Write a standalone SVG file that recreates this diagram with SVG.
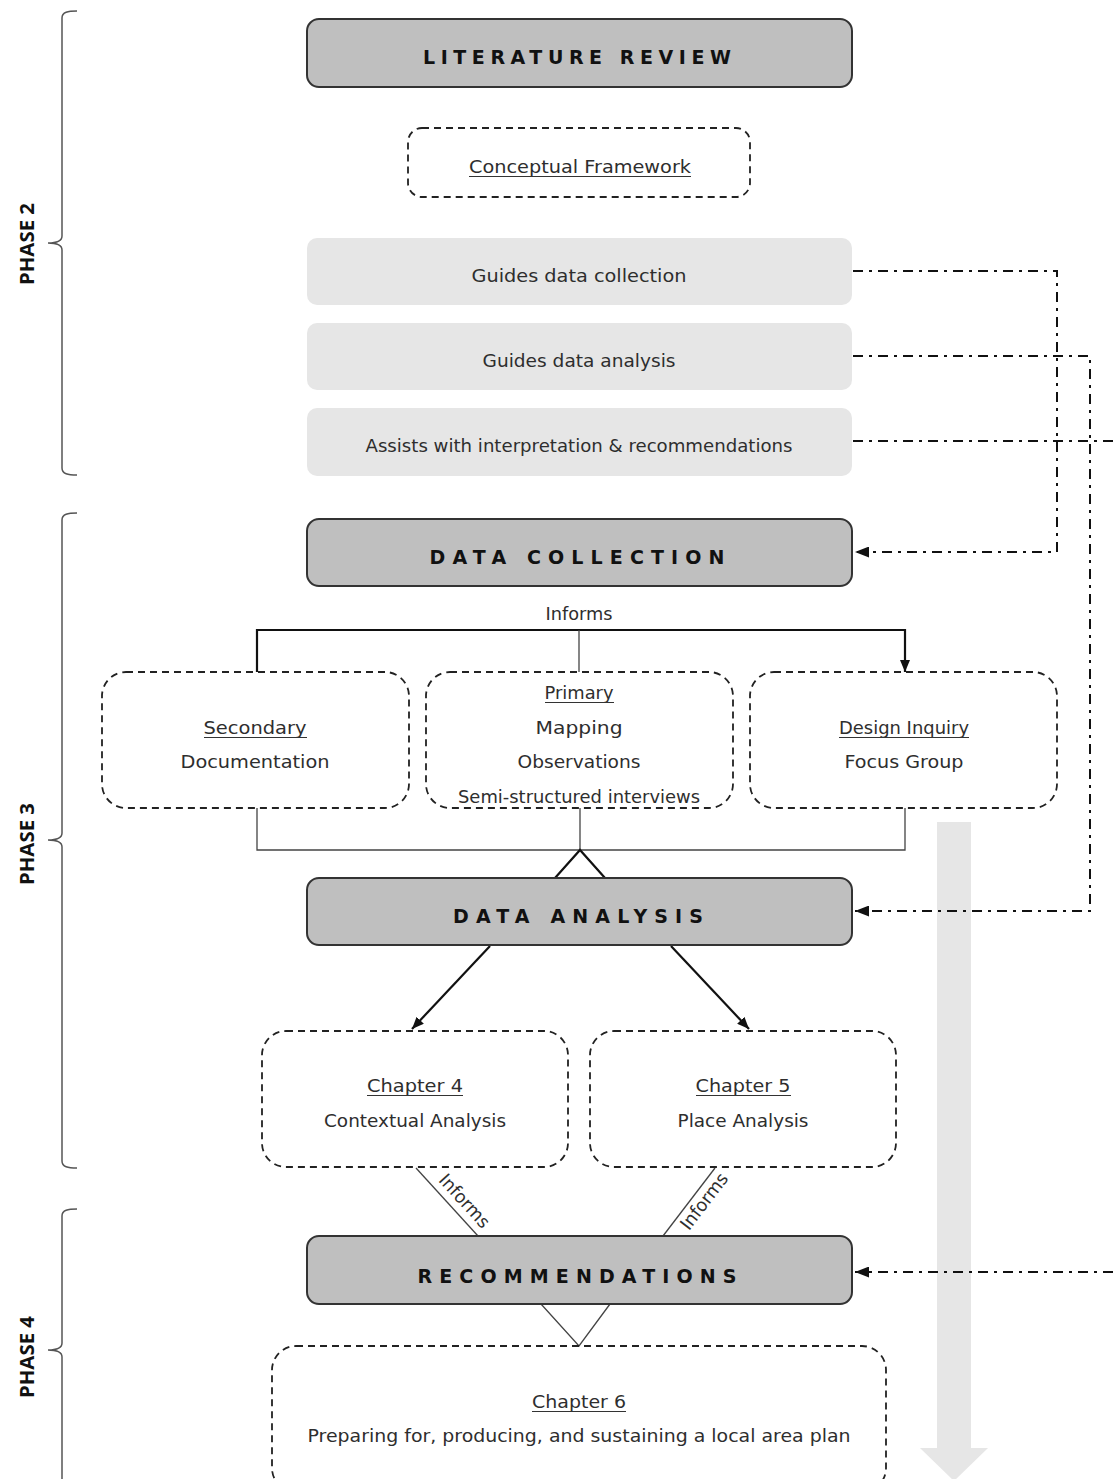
<svg xmlns="http://www.w3.org/2000/svg" width="1118" height="1479" viewBox="0 0 1118 1479">
<style>
.bg{fill:#ffffff}
.head rect{fill:#bfbfbf;stroke:#333333;stroke-width:2}
.head text{font-family:"DejaVu Sans","Liberation Sans",sans-serif;font-weight:bold;font-size:19px;fill:#111111;text-anchor:middle}
.light rect{fill:#e6e6e6;stroke:none}
.dash rect{fill:none;stroke:#222222;stroke-width:1.8;stroke-dasharray:7 5}
.t{font-family:"DejaVu Sans","Liberation Sans",sans-serif;font-size:18px;fill:#2e2e2e;text-anchor:middle}
.ul{stroke:#333333;stroke-width:1.1}
.brace{fill:none;stroke:#555555;stroke-width:1.5}
.phase{font-family:"Open Sans","DejaVu Sans",sans-serif;font-weight:bold;font-size:20px;fill:#111111;text-anchor:middle}
.thick{fill:none;stroke:#111111;stroke-width:2.2}
.thin{fill:none;stroke:#444444;stroke-width:1.3}
.dd{fill:none;stroke:#111111;stroke-width:2;stroke-dasharray:10 6 3 6}
.garrow{fill:#e6e6e6;stroke:none}
</style>
<defs>
<marker id="ah" viewBox="0 0 12 10" refX="12" refY="5" markerWidth="12" markerHeight="10" markerUnits="userSpaceOnUse" orient="auto"><path d="M0,0 L12,5 L0,10 Z" fill="#111111"/></marker>
<marker id="ah2" viewBox="0 0 14 11" refX="14" refY="5.5" markerWidth="14" markerHeight="11" markerUnits="userSpaceOnUse" orient="auto"><path d="M0,0 L14,5.5 L0,11 Z" fill="#111111"/></marker>
</defs>
<rect class="bg" x="0" y="0" width="1118" height="1479"/>

<g id="flow-arrow">
<path class="garrow" d="M937,822 H971 V1448 H988 L954,1481 L920,1448 H937 Z"/>
</g>

<g id="braces">
<path class="brace" d="M77,11 C68,11 62,12 62,18 L62,236 C62,241 58,243 48,243 C58,243 62,245 62,250 L62,468 C62,474 68,475 77,475"/>
<path class="brace" d="M77,513 C68,513 62,514 62,520 L62,833 C62,838 58,840 48,840 C58,840 62,842 62,847 L62,1161 C62,1167 68,1168 77,1168"/>
<path class="brace" d="M77,1209 C68,1209 62,1210 62,1216 L62,1343 C62,1348 58,1350 48,1350 C58,1350 62,1352 62,1357 L62,1484 C62,1490 68,1491 77,1491"/>
<text class="phase" transform="translate(34,244) rotate(-90)" textLength="82" lengthAdjust="spacingAndGlyphs">PHASE 2</text>
<text class="phase" transform="translate(34,844) rotate(-90)" textLength="82" lengthAdjust="spacingAndGlyphs">PHASE 3</text>
<text class="phase" transform="translate(34,1357) rotate(-90)" textLength="82" lengthAdjust="spacingAndGlyphs">PHASE 4</text>
</g>

<g id="connectors">
<path class="dd" d="M853,271 H1057 V552 H855" marker-end="url(#ah2)"/>
<path class="dd" d="M853,356 H1090 V911 H855" marker-end="url(#ah2)"/>
<path class="dd" d="M853,441 H1130 V1272 H855" marker-end="url(#ah2)"/>
<path class="thick" d="M257,672 V630 H905 V672" marker-end="url(#ah)"/>
<path class="thin" d="M579,630 V672"/>
<path class="thin" d="M257,808 V850 H905 V808"/>
<path class="thin" d="M580,808 V850"/>
<path class="thick" d="M555,878 L580,850 L605,878"/>
<path class="thick" d="M490,946 L412,1029" marker-end="url(#ah)"/>
<path class="thick" d="M671,946 L749,1029" marker-end="url(#ah)"/>
<path class="thin" d="M416,1168 L478,1236"/>
<path class="thin" d="M715,1168 L663,1236"/>
<text class="t" transform="translate(460,1205) rotate(47.6)" textLength="66" lengthAdjust="spacingAndGlyphs">Informs</text>
<text class="t" transform="translate(709,1205) rotate(-52.6)" textLength="66" lengthAdjust="spacingAndGlyphs">Informs</text>
<path class="thin" d="M541,1304 L579,1346 L610,1304"/>
<text class="t" x="579" y="620" textLength="67" lengthAdjust="spacingAndGlyphs">Informs</text>
</g>

<g id="literature-review" class="head">
<rect x="307" y="19" width="545" height="68" rx="12"/>
<text x="577" y="64" textLength="308" lengthAdjust="spacing">LITERATURE REVIEW</text>
</g>

<g id="conceptual-framework" class="dash">
<rect x="408" y="128" width="342" height="69" rx="14"/>
<text class="t" x="580" y="173" textLength="222" lengthAdjust="spacingAndGlyphs">Conceptual Framework</text>
<line class="ul" x1="469" y1="176.5" x2="691" y2="176.5"/>
</g>

<g id="guides-collection" class="light">
<rect x="307" y="238" width="545" height="67" rx="10"/>
<text class="t" x="579" y="282" textLength="215" lengthAdjust="spacingAndGlyphs">Guides data collection</text>
</g>

<g id="guides-analysis" class="light">
<rect x="307" y="323" width="545" height="67" rx="10"/>
<text class="t" x="579" y="367" textLength="193" lengthAdjust="spacingAndGlyphs">Guides data analysis</text>
</g>

<g id="assists" class="light">
<rect x="307" y="408" width="545" height="68" rx="10"/>
<text class="t" x="579" y="452" textLength="427" lengthAdjust="spacingAndGlyphs">Assists with interpretation &amp; recommendations</text>
</g>

<g id="data-collection" class="head">
<rect x="307" y="519" width="545" height="67" rx="12"/>
<text x="577" y="564" textLength="295" lengthAdjust="spacing">DATA COLLECTION</text>
</g>

<g id="secondary" class="dash">
<rect x="102" y="672" width="307" height="136" rx="24"/>
<text class="t" x="255" y="734" textLength="103" lengthAdjust="spacingAndGlyphs">Secondary</text>
<line class="ul" x1="204" y1="737.5" x2="307" y2="737.5"/>
<text class="t" x="255" y="768" textLength="149" lengthAdjust="spacingAndGlyphs">Documentation</text>
</g>

<g id="primary" class="dash">
<rect x="426" y="672" width="307" height="136" rx="24"/>
<text class="t" x="579" y="699" textLength="69" lengthAdjust="spacingAndGlyphs">Primary</text>
<line class="ul" x1="545" y1="702.5" x2="614" y2="702.5"/>
<text class="t" x="579" y="734" textLength="87" lengthAdjust="spacingAndGlyphs">Mapping</text>
<text class="t" x="579" y="768" textLength="123" lengthAdjust="spacingAndGlyphs">Observations</text>
<text class="t" x="579" y="803" textLength="242" lengthAdjust="spacingAndGlyphs">Semi-structured interviews</text>
</g>

<g id="design-inquiry" class="dash">
<rect x="750" y="672" width="307" height="136" rx="24"/>
<text class="t" x="904" y="734" textLength="130" lengthAdjust="spacingAndGlyphs">Design Inquiry</text>
<line class="ul" x1="839" y1="737.5" x2="969" y2="737.5"/>
<text class="t" x="904" y="768" textLength="119" lengthAdjust="spacingAndGlyphs">Focus Group</text>
</g>

<g id="data-analysis" class="head">
<rect x="307" y="878" width="545" height="67" rx="12"/>
<text x="578" y="923" textLength="250" lengthAdjust="spacing">DATA ANALYSIS</text>
</g>

<g id="chapter-4" class="dash">
<rect x="262" y="1031" width="306" height="136" rx="24"/>
<text class="t" x="415" y="1092" textLength="96" lengthAdjust="spacingAndGlyphs">Chapter 4</text>
<line class="ul" x1="367" y1="1095.5" x2="463" y2="1095.5"/>
<text class="t" x="415" y="1127" textLength="182" lengthAdjust="spacingAndGlyphs">Contextual Analysis</text>
</g>

<g id="chapter-5" class="dash">
<rect x="590" y="1031" width="306" height="136" rx="24"/>
<text class="t" x="743" y="1092" textLength="95" lengthAdjust="spacingAndGlyphs">Chapter 5</text>
<line class="ul" x1="696" y1="1095.5" x2="791" y2="1095.5"/>
<text class="t" x="743" y="1127" textLength="131" lengthAdjust="spacingAndGlyphs">Place Analysis</text>
</g>

<g id="recommendations" class="head">
<rect x="307" y="1236" width="545" height="68" rx="12"/>
<text x="577" y="1283" textLength="319" lengthAdjust="spacing">RECOMMENDATIONS</text>
</g>

<g id="chapter-6" class="dash">
<rect x="272" y="1346" width="614" height="146" rx="24"/>
<text class="t" x="579" y="1408" textLength="94" lengthAdjust="spacingAndGlyphs">Chapter 6</text>
<line class="ul" x1="532" y1="1411.5" x2="626" y2="1411.5"/>
<text class="t" x="579" y="1442" textLength="543" lengthAdjust="spacingAndGlyphs">Preparing for, producing, and sustaining a local area plan</text>
</g>
</svg>
